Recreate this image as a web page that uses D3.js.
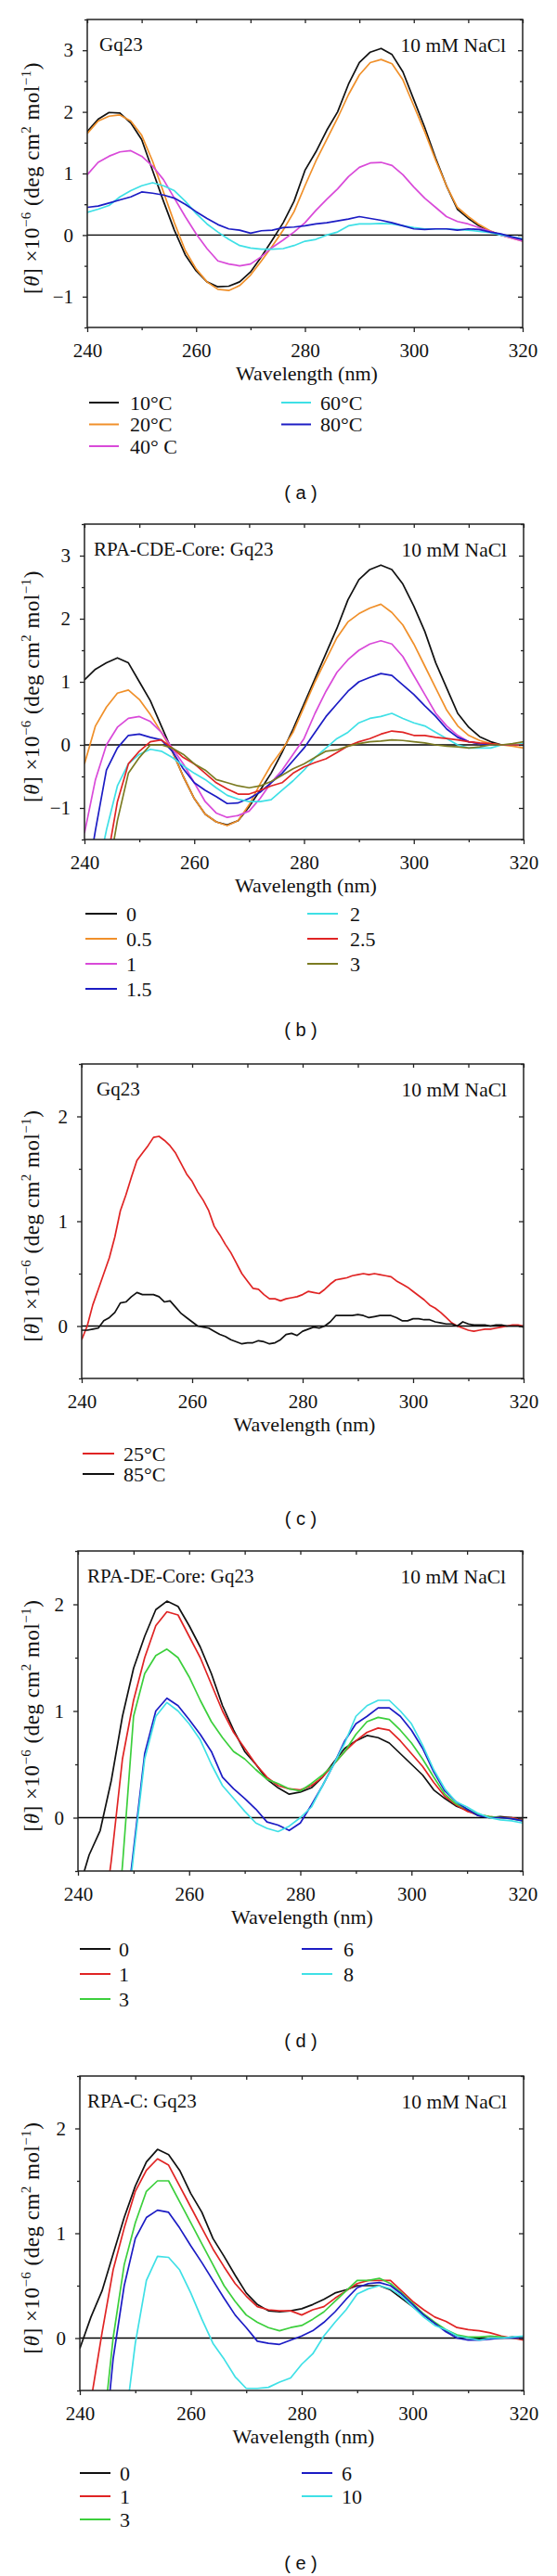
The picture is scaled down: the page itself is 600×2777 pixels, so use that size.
<!DOCTYPE html>
<html>
<head>
<meta charset="utf-8">
<script src="https://cdn.jsdelivr.net/npm/d3@7.9.0/dist/d3.min.js"></script>
<style>
  body { margin: 0; background: #fff; }
  svg { display: block; }
  text { font-family: "Liberation Serif", "DejaVu Serif", serif; fill: #111; }
  .cap { font-family: "Liberation Sans", Arial, sans-serif; }
</style>
</head>
<body>
<svg id="fig" width="600" height="2777"></svg>
<script>
// wavelength grids (nm)
const wl2 = [240,242,244,246,248,250,252,254,256,258,260,262,264,266,268,270,272,274,276,278,280,
  282,284,286,288,290,292,294,296,298,300,302,304,306,308,310,312,314,316,318,320];
const wl1 = [240,241,242,243,244,245,246,247,248,249,250,251,252,253,254,255,256,257,258,259,260,
  261,262,263,264,265,266,267,268,269,270,271,272,273,274,275,276,277,278,279,280,
  281,282,283,284,285,286,287,288,289,290,291,292,293,294,295,296,297,298,299,300,
  301,302,303,304,305,306,307,308,309,310,311,312,313,314,315,316,317,318,319,320];

// (a) Gq23, temperature series
const aLabels = ['10°C', '20°C', '40° C', '60°C', '80°C'];
const a10 = [1.68,1.88,1.99,1.98,1.82,1.55,1.05,0.55,0.08,-0.32,-0.58,-0.76,-0.84,-0.83,-0.76,-0.6,-0.35,-0.08,0.2,0.55,1.05,
  1.35,1.7,2.0,2.45,2.8,2.97,3.03,2.93,2.65,2.2,1.75,1.25,0.8,0.42,0.27,0.15,0.06,0.0,-0.04,-0.07];
const a20 = [1.65,1.85,1.93,1.95,1.85,1.62,1.2,0.7,0.2,-0.25,-0.55,-0.76,-0.88,-0.9,-0.82,-0.65,-0.42,-0.18,0.08,0.38,0.8,
  1.2,1.55,1.9,2.28,2.6,2.8,2.85,2.78,2.52,2.1,1.68,1.22,0.8,0.45,0.3,0.17,0.07,0.0,-0.05,-0.1];
const a40 = [0.98,1.18,1.28,1.35,1.37,1.28,1.12,0.9,0.6,0.3,0.02,-0.22,-0.42,-0.47,-0.5,-0.47,-0.35,-0.2,-0.08,0.05,0.2,
  0.4,0.58,0.75,0.95,1.1,1.17,1.18,1.13,0.98,0.78,0.6,0.45,0.3,0.22,0.18,0.12,0.06,0.0,-0.05,-0.1];
const a60 = [0.37,0.42,0.48,0.62,0.72,0.8,0.85,0.8,0.72,0.55,0.35,0.18,0.05,-0.07,-0.17,-0.21,-0.23,-0.23,-0.22,-0.17,-0.1,
  -0.07,0.0,0.05,0.15,0.18,0.18,0.19,0.18,0.15,0.12,0.1,0.1,0.1,0.09,0.08,0.06,0.04,0.0,-0.03,-0.06];
const a80 = [0.45,0.47,0.52,0.57,0.62,0.7,0.68,0.65,0.6,0.5,0.38,0.27,0.17,0.1,0.08,0.03,0.07,0.08,0.12,0.13,0.15,
  0.18,0.2,0.23,0.26,0.3,0.27,0.24,0.2,0.15,0.1,0.09,0.1,0.1,0.08,0.1,0.09,0.05,0.02,-0.03,-0.07];

// (b) RPA-CDE-Core : Gq23
const bLabels = ['0', '0.5', '1', '1.5', '2', '2.5', '3'];
const b0 = [1.03,1.2,1.3,1.38,1.3,1.0,0.7,0.3,-0.1,-0.5,-0.85,-1.1,-1.22,-1.27,-1.2,-0.98,-0.72,-0.45,-0.12,0.25,0.65,
  1.05,1.45,1.85,2.3,2.62,2.78,2.85,2.78,2.55,2.2,1.8,1.3,0.9,0.5,0.28,0.13,0.05,0.0,0.0,0.0];
const b05 = [-0.3,0.3,0.6,0.82,0.87,0.72,0.48,0.2,-0.1,-0.5,-0.85,-1.1,-1.22,-1.28,-1.2,-0.95,-0.62,-0.32,-0.08,0.2,0.6,
  1.0,1.35,1.7,1.95,2.08,2.17,2.23,2.1,1.9,1.6,1.25,0.9,0.55,0.3,0.15,0.07,0.02,0.0,-0.02,-0.05];
const b1 = [-1.4,-0.55,0.0,0.28,0.42,0.45,0.37,0.2,-0.05,-0.3,-0.6,-0.9,-1.08,-1.15,-1.12,-1.05,-0.85,-0.6,-0.4,-0.15,0.1,
  0.5,0.85,1.15,1.35,1.5,1.6,1.65,1.6,1.4,1.1,0.8,0.5,0.3,0.15,0.05,0.02,0.0,0.0,0.0,0.0];
const b15 = [-2.4,-1.35,-0.4,-0.05,0.15,0.17,0.12,0.08,-0.1,-0.38,-0.6,-0.72,-0.82,-0.93,-0.92,-0.85,-0.75,-0.6,-0.45,-0.25,-0.05,
  0.2,0.45,0.65,0.85,1.0,1.07,1.13,1.1,0.95,0.8,0.62,0.45,0.25,0.12,0.05,0.02,0.0,0.0,0.0,0.0];
const b2 = [-3.0,-2.2,-1.35,-0.65,-0.3,-0.15,-0.07,-0.1,-0.2,-0.33,-0.45,-0.55,-0.68,-0.8,-0.86,-0.9,-0.9,-0.87,-0.72,-0.57,-0.4,
  -0.2,-0.05,0.1,0.2,0.35,0.42,0.45,0.5,0.42,0.35,0.3,0.2,0.1,0.0,-0.05,-0.05,-0.05,0.0,0.0,0.02];
const b25 = [-3.6,-2.8,-1.9,-0.9,-0.3,-0.1,0.05,0.08,-0.05,-0.2,-0.3,-0.45,-0.6,-0.7,-0.78,-0.78,-0.72,-0.65,-0.6,-0.45,-0.35,
  -0.28,-0.22,-0.12,-0.02,0.05,0.1,0.17,0.22,0.2,0.15,0.15,0.12,0.1,0.08,0.05,0.03,0.02,0.0,0.0,0.0];
const b3 = [-4.0,-3.2,-2.2,-1.2,-0.45,-0.2,0.0,0.0,-0.05,-0.15,-0.3,-0.4,-0.55,-0.6,-0.65,-0.68,-0.65,-0.58,-0.48,-0.38,-0.3,
  -0.2,-0.1,-0.08,-0.02,0.02,0.05,0.06,0.08,0.07,0.05,0.03,0.0,-0.02,-0.03,-0.05,-0.03,0.0,0.0,0.02,0.05];

// (c) Gq23, 25 and 85 C (1 nm)
const cLabels = ['25°C', '85°C'];
const c25 = [-0.13,0.0,0.2,0.35,0.5,0.65,0.85,1.1,1.25,1.42,1.58,1.65,1.72,1.8,1.81,1.77,1.72,1.65,1.55,1.45,1.38,
  1.28,1.2,1.1,0.95,0.87,0.78,0.7,0.6,0.5,0.43,0.36,0.35,0.3,0.26,0.26,0.24,0.26,0.27,0.28,0.3,
  0.33,0.32,0.31,0.35,0.4,0.44,0.45,0.46,0.48,0.49,0.5,0.49,0.5,0.49,0.48,0.47,0.43,0.4,0.37,0.33,
  0.29,0.25,0.2,0.17,0.13,0.08,0.03,0.0,-0.02,-0.04,-0.05,-0.04,-0.03,-0.03,-0.02,-0.01,0.0,0.01,0.01,0.0];
const c85 = [-0.04,-0.04,-0.03,-0.02,0.05,0.08,0.13,0.22,0.23,0.28,0.32,0.3,0.3,0.3,0.28,0.23,0.24,0.18,0.12,0.08,0.04,
  0.0,-0.01,-0.02,-0.05,-0.08,-0.1,-0.13,-0.15,-0.17,-0.16,-0.16,-0.14,-0.15,-0.17,-0.16,-0.13,-0.08,-0.07,-0.09,-0.05,
  -0.03,-0.01,-0.02,0.0,0.04,0.1,0.1,0.1,0.1,0.11,0.1,0.08,0.09,0.1,0.1,0.1,0.08,0.05,0.05,0.07,
  0.07,0.06,0.06,0.04,0.03,0.02,0.02,0.0,0.04,0.02,0.01,0.01,0.01,0.0,0.01,0.01,0.0,0.0,0.0,-0.01];

// (d) RPA-DE-Core : Gq23
const dLabels = ['0', '1', '3', '6', '8'];
const d0 = [-0.7,-0.35,-0.12,0.35,0.95,1.4,1.7,1.95,2.03,1.98,1.8,1.6,1.35,1.05,0.82,0.62,0.5,0.36,0.28,0.22,0.24,
  0.28,0.38,0.52,0.65,0.72,0.77,0.75,0.7,0.6,0.5,0.4,0.26,0.18,0.11,0.07,0.02,0.0,0.01,0.0,-0.02];
const d1 = [-2.8,-2.0,-1.2,-0.4,0.55,1.1,1.5,1.8,1.93,1.9,1.7,1.5,1.25,1.0,0.8,0.65,0.5,0.38,0.3,0.27,0.26,
  0.3,0.38,0.5,0.62,0.72,0.8,0.84,0.82,0.72,0.6,0.48,0.33,0.2,0.12,0.06,0.03,0.01,0.0,0.0,-0.02];
const d3v = [-4.5,-3.6,-2.7,-1.6,-0.45,0.95,1.35,1.52,1.58,1.5,1.32,1.1,0.9,0.75,0.62,0.55,0.45,0.36,0.32,0.27,0.25,
  0.32,0.4,0.5,0.62,0.78,0.9,0.94,0.92,0.82,0.7,0.55,0.38,0.22,0.13,0.08,0.03,0.01,0.0,-0.01,-0.03];
const d6 = [-5.0,-4.0,-3.0,-2.0,-1.2,-0.3,0.6,1.0,1.12,1.05,0.92,0.78,0.62,0.38,0.27,0.18,0.08,-0.04,-0.07,-0.12,-0.05,
  0.12,0.3,0.5,0.72,0.88,0.95,1.03,1.03,0.95,0.82,0.65,0.43,0.25,0.15,0.08,0.02,0.0,0.0,-0.01,-0.03];
const d8 = [-5.0,-4.0,-3.0,-2.1,-1.3,-0.35,0.55,0.95,1.08,1.0,0.88,0.73,0.5,0.3,0.18,0.06,-0.05,-0.1,-0.13,-0.08,0.0,
  0.1,0.3,0.5,0.7,0.95,1.05,1.1,1.1,1.0,0.88,0.68,0.45,0.27,0.15,0.1,0.04,0.0,-0.02,-0.03,-0.05];

// (e) RPA-C : Gq23
const eLabels = ['0', '1', '3', '6', '10'];
const e0 = [-0.1,0.2,0.45,0.8,1.15,1.45,1.68,1.8,1.75,1.6,1.38,1.2,0.95,0.78,0.6,0.43,0.32,0.26,0.25,0.26,0.28,
  0.32,0.37,0.43,0.46,0.5,0.5,0.5,0.46,0.38,0.3,0.22,0.14,0.07,0.02,0.0,-0.01,0.0,0.0,0.01,0.0];
const e1 = [-1.3,-0.6,0.05,0.65,1.05,1.4,1.6,1.71,1.65,1.45,1.25,1.05,0.85,0.68,0.52,0.4,0.3,0.27,0.26,0.26,0.22,
  0.27,0.3,0.38,0.45,0.52,0.55,0.55,0.55,0.45,0.35,0.27,0.2,0.16,0.1,0.08,0.07,0.05,0.02,0.0,-0.02];
const e3 = [-2.8,-1.9,-1.0,0.0,0.7,1.1,1.4,1.5,1.5,1.3,1.1,0.9,0.7,0.5,0.35,0.22,0.15,0.1,0.07,0.1,0.12,
  0.18,0.25,0.35,0.45,0.55,0.55,0.57,0.52,0.43,0.33,0.23,0.15,0.08,0.03,0.01,0.01,0.02,0.01,0.0,0.0];
const e6 = [-3.2,-2.3,-1.3,-0.2,0.5,0.95,1.15,1.22,1.2,1.05,0.88,0.72,0.55,0.38,0.22,0.1,-0.03,-0.05,-0.06,-0.02,0.02,
  0.07,0.15,0.25,0.37,0.48,0.52,0.53,0.5,0.42,0.32,0.22,0.14,0.06,0.0,-0.02,-0.02,-0.01,0.0,0.0,0.0];
const e10 = [-4.5,-3.5,-2.5,-1.6,-0.9,-0.05,0.55,0.78,0.77,0.65,0.43,0.18,-0.05,-0.2,-0.37,-0.48,-0.48,-0.47,-0.42,-0.38,-0.25,
  -0.15,0.02,0.15,0.27,0.42,0.47,0.5,0.47,0.4,0.3,0.2,0.12,0.08,0.02,0.0,-0.02,0.0,0.0,0.01,0.02];

const xTicks = [240, 260, 280, 300, 320];
const xMinor = [250, 270, 290, 310];

const K = '#111', OR = '#f0902a', MG = '#d94ad9', CY = '#3fe0e6', BL = '#1c1cc4',
  RD = '#e02424', OL = '#7b7b22', GR = '#3ccf3c';

const panels = [
  { id: 'a', xs: wl2, series: [a10, a20, a40, a60, a80], labels: aLabels, colors: [K, OR, MG, CY, BL],
    yDomain: [-1.5, 3.5], yTicks: [-1, 0, 1, 2, 3], title: 'Gq23',
    left: 94, right: 563, top: 21, bottom: 353, titleX: 107, zeroExt: 0,
    legTop: 434, legStep: 23.5, legRows: 3, cols: [[96, 128, 140], [303, 335, 345]], cap: 531 },
  { id: 'b', xs: wl2, series: [b0, b05, b1, b15, b2, b25, b3], labels: bLabels, colors: [K, OR, MG, BL, CY, RD, OL],
    yDomain: [-1.5, 3.5], yTicks: [-1, 0, 1, 2, 3], title: 'RPA-CDE-Core: Gq23',
    left: 91, right: 564, top: 565, bottom: 905, titleX: 101, zeroExt: 0,
    legTop: 985, legStep: 27, legRows: 4, cols: [[92, 126, 136], [331, 364, 377]], cap: 1110 },
  { id: 'c', xs: wl1, series: [c25, c85], labels: cLabels, colors: [RD, K],
    yDomain: [-0.5, 2.5], yTicks: [0, 1, 2], title: 'Gq23',
    left: 88, right: 564, top: 1147, bottom: 1486, titleX: 104, zeroExt: 0,
    legTop: 1567, legStep: 22, legRows: 2, cols: [[89, 123, 133]], cap: 1637 },
  { id: 'd', xs: wl2, series: [d0, d1, d3v, d6, d8], labels: dLabels, colors: [K, RD, GR, BL, CY],
    yDomain: [-0.5, 2.5], yTicks: [0, 1, 2], title: 'RPA-DE-Core: Gq23',
    left: 84, right: 563, top: 1672, bottom: 2017, titleX: 94, zeroExt: 5,
    legTop: 2101, legStep: 27, legRows: 3, cols: [[86, 119, 128], [325, 358, 370]], cap: 2200 },
  { id: 'e', xs: wl2, series: [e0, e1, e3, e6, e10], labels: eLabels, colors: [K, RD, GR, BL, CY],
    yDomain: [-0.5, 2.5], yTicks: [0, 1, 2], title: 'RPA-C: Gq23',
    left: 86, right: 564, top: 2238, bottom: 2577, titleX: 94, zeroExt: 0,
    legTop: 2666, legStep: 25, legRows: 3, cols: [[86, 119, 129], [325, 358, 368]], cap: 2763 }
];

const svg = d3.select('#fig');

panels.forEach(drawPanel);

function drawPanel(p) {
  const g = svg.append('g').attr('class', 'panel-' + p.id);
  const x = d3.scaleLinear().domain([240, 320]).range([p.left, p.right]);
  const y = d3.scaleLinear().domain(p.yDomain).range([p.bottom, p.top]);
  const yMinor = d3.range(p.yDomain[0], p.yDomain[1] + 0.01, 0.5).filter(v => !p.yTicks.includes(v));

  svg.append('clipPath').attr('id', 'clip-' + p.id)
    .append('rect')
    .attr('x', p.left).attr('y', p.top)
    .attr('width', p.right - p.left).attr('height', p.bottom - p.top);

  // zero line
  g.append('line')
    .attr('x1', x(240)).attr('x2', x(320) + p.zeroExt)
    .attr('y1', y(0)).attr('y2', y(0))
    .attr('stroke', '#000').attr('stroke-width', 1.3);

  const line = d3.line().x((d, i) => x(p.xs[i])).y(d => y(d));
  p.series.forEach((s, i) => {
    g.append('path')
      .attr('d', line(s))
      .attr('fill', 'none')
      .attr('stroke', p.colors[i])
      .attr('stroke-width', 1.7)
      .attr('stroke-linejoin', 'round')
      .attr('clip-path', `url(#clip-${p.id})`);
  });

  // axes: left/bottom ticks outward with labels, top/right inward
  const styleAxis = sel => {
    sel.select('.domain').remove();
    sel.selectAll('line').attr('stroke', '#222').attr('stroke-width', 1.3);
    sel.selectAll('text').attr('font-size', 21).attr('fill', '#111')
      .attr('font-family', '"Liberation Serif", "DejaVu Serif", serif');
  };
  g.append('g').attr('transform', `translate(0,${p.bottom})`)
    .call(d3.axisBottom(x).tickValues(xTicks).tickSize(5).tickPadding(12).tickFormat(d3.format('d')))
    .call(styleAxis);
  g.append('g').attr('transform', `translate(0,${p.bottom})`)
    .call(d3.axisBottom(x).tickValues(xMinor).tickSize(3).tickFormat(''))
    .call(styleAxis);
  g.append('g').attr('transform', `translate(0,${p.top})`)
    .call(d3.axisTop(x).tickValues(xTicks.concat(xMinor)).tickSize(-4).tickFormat(''))
    .call(styleAxis);
  g.append('g').attr('transform', `translate(${p.left},0)`)
    .call(d3.axisLeft(y).tickValues(p.yTicks).tickSize(5).tickPadding(10).tickFormat(d3.format('d')))
    .call(styleAxis);
  g.append('g').attr('transform', `translate(${p.left},0)`)
    .call(d3.axisLeft(y).tickValues(yMinor).tickSize(3).tickFormat(''))
    .call(styleAxis);
  g.append('g').attr('transform', `translate(${p.right},0)`)
    .call(d3.axisRight(y).tickValues(p.yTicks).tickSize(-5).tickFormat(''))
    .call(styleAxis);
  g.append('g').attr('transform', `translate(${p.right},0)`)
    .call(d3.axisRight(y).tickValues(yMinor).tickSize(-3).tickFormat(''))
    .call(styleAxis);

  // frame
  g.append('rect')
    .attr('x', p.left).attr('y', p.top)
    .attr('width', p.right - p.left).attr('height', p.bottom - p.top)
    .attr('fill', 'none').attr('stroke', '#222').attr('stroke-width', 1.5);

  // in-plot labels
  g.append('text').attr('x', p.titleX).attr('y', p.top + 34)
    .attr('font-size', 21).text(p.title);
  g.append('text').attr('x', p.right - 18).attr('y', p.top + 35)
    .attr('font-size', 21.5).attr('text-anchor', 'end').text('10 mM NaCl');

  // axis titles
  g.append('text')
    .attr('x', (p.left + p.right) / 2 + 2).attr('y', p.bottom + 57)
    .attr('font-size', 22).attr('text-anchor', 'middle')
    .text('Wavelength (nm)');

  const yt = g.append('text')
    .attr('transform', `translate(42,${(p.top + p.bottom) / 2 + 5}) rotate(-90)`)
    .attr('font-size', 23).attr('letter-spacing', 0.5).attr('text-anchor', 'middle');
  yt.append('tspan').text('[');
  yt.append('tspan').attr('font-style', 'italic').text('θ');
  yt.append('tspan').text('] ×10');
  yt.append('tspan').attr('font-size', 15).attr('dy', -9).text('−6');
  yt.append('tspan').attr('dy', 9).text(' (deg cm');
  yt.append('tspan').attr('font-size', 15).attr('dy', -9).text('2');
  yt.append('tspan').attr('dy', 9).text(' mol');
  yt.append('tspan').attr('font-size', 15).attr('dy', -9).text('−1');
  yt.append('tspan').attr('dy', 9).text(')');

  // legend, filled column by column
  p.labels.forEach((lab, i) => {
    const col = p.cols[Math.floor(i / p.legRows)];
    const cy = p.legTop + (i % p.legRows) * p.legStep;
    g.append('line')
      .attr('x1', col[0]).attr('x2', col[1]).attr('y1', cy).attr('y2', cy)
      .attr('stroke', p.colors[i]).attr('stroke-width', 2);
    g.append('text').attr('x', col[2]).attr('y', cy).attr('dy', '0.35em')
      .attr('font-size', 22).text(lab);
  });

  // caption
  g.append('text').attr('class', 'cap')
    .attr('x', 324).attr('y', p.cap).attr('dy', '0.35em')
    .attr('font-size', 20).attr('text-anchor', 'middle')
    .text(`( ${p.id} )`);
}
</script>
</body>
</html>
